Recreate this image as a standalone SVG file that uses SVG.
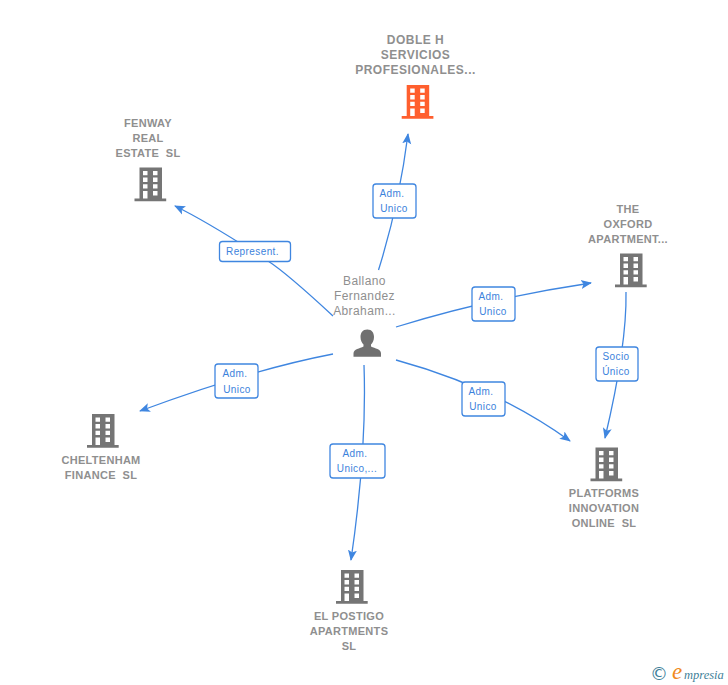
<svg xmlns="http://www.w3.org/2000/svg" width="728" height="685" viewBox="0 0 728 685">
<style>
.n{font:bold 11px "Liberation Sans",Arial,sans-serif;fill:#8f8f8f;text-anchor:middle;letter-spacing:.3px;white-space:pre}
.o{font-size:12px;letter-spacing:.5px}
.p{font:12px "Liberation Sans",Arial,sans-serif;fill:#8f8f8f;text-anchor:middle;letter-spacing:.4px}
.l{font:10px "Liberation Sans",Arial,sans-serif;fill:#3b82dc;text-anchor:middle;letter-spacing:.4px}
.b{fill:#fff;stroke:#3f86e0;stroke-width:1.3}
.c{fill:none;stroke:#3f86e0;stroke-width:1.3;marker-end:url(#a)}
</style>
<defs>
<marker id="a" viewBox="0 0 11 10" refX="10" refY="5" markerWidth="11" markerHeight="10" markerUnits="userSpaceOnUse" orient="auto"><path d="M0 0.500L11 5L0 9.500L2.500 5Z" fill="#3f86e0"/></marker>
<g id="bld">
<path fill-rule="evenodd" d="M5 0H27.500V31H31.700V33.700H0V31H5ZM8.500 3.500V7.700H13V3.500ZM18.500 3.500V7.700H23V3.500ZM8.500 10V14.500H13V10ZM18.500 10V14.500H23V10ZM8.500 16.800V21H13V16.800ZM18.500 16.800V21H23V16.800ZM8.500 23.500V31H13V23.500ZM18.500 23.500V28H23V23.500Z"/>
</g>
</defs>
<g id="connectors">
<path class="c" d="M378.500 270Q399 205 408 134"/>
<path class="c" d="M333 316C305 290 285 272 268 261C240 243 208 222 175 206"/>
<path class="c" d="M396 327Q490 298 591 283"/>
<path class="c" d="M626 292Q627 345 605 438"/>
<path class="c" d="M396 360Q495 387 570 441"/>
<path class="c" d="M364 365Q367 450 351 560"/>
<path class="c" d="M333 354Q250 370 140 411"/>
</g>
<g id="label-doble"><rect class="b" x="373" y="184" width="43" height="34" rx="3"/><text class="l" x="392" y="197">Adm.</text><text class="l" x="394" y="212">Unico</text></g>
<g id="label-fenway"><rect class="b" x="219.500" y="241.500" width="71" height="20" rx="3"/><text class="l" x="252.500" y="255">Represent.</text></g>
<g id="label-oxford"><rect class="b" x="472" y="287" width="43" height="34" rx="3"/><text class="l" x="491" y="300">Adm.</text><text class="l" x="493" y="315">Unico</text></g>
<g id="label-socio"><rect class="b" x="596" y="347" width="42" height="34" rx="3"/><text class="l" x="616" y="360">Socio</text><text class="l" x="616" y="375">Único</text></g>
<g id="label-platforms"><rect class="b" x="462" y="382" width="43" height="34" rx="3"/><text class="l" x="481" y="395">Adm.</text><text class="l" x="483" y="410">Unico</text></g>
<g id="label-cheltenham"><rect class="b" x="215" y="364" width="43" height="34" rx="3"/><text class="l" x="235" y="377">Adm.</text><text class="l" x="237" y="393">Unico</text></g>
<g id="label-postigo"><rect class="b" x="330" y="444" width="55" height="34" rx="3"/><text class="l" x="355" y="457">Adm.</text><text class="l" x="357" y="472">Unico,...</text></g>
<g id="node-person">
<text class="p" x="364.500" y="285">Ballano</text><text class="p" x="364.500" y="300">Fernandez</text><text class="p" x="364.500" y="315">Abraham...</text>
<path fill="#707070" d="M367.300 329.500C372 329.500 374 333 374 337C374 340.500 372.500 343 371 344.500V346.500C375 348.500 381 349 381 353.500V356.700H353.500V353.500C353.500 349 360 348.500 363.500 346.500V344.500C362 343 360.500 340.500 360.500 337C360.500 333 362.500 329.500 367.300 329.500Z"/>
</g>
<g id="node-doble"><text class="n o" x="415.500" y="44">DOBLE H</text><text class="n o" x="415.500" y="59">SERVICIOS</text><text class="n o" x="415.500" y="74">PROFESIONALES...</text><use href="#bld" x="401.700" y="85" fill="#ff5f2e"/></g>
<g id="node-fenway"><text class="n" x="148" y="127">FENWAY</text><text class="n" x="148" y="142">REAL</text><text class="n" x="148" y="157">ESTATE  SL</text><use href="#bld" x="134.500" y="167.500" fill="#757575"/></g>
<g id="node-oxford"><text class="n" x="628" y="213">THE</text><text class="n" x="628" y="228">OXFORD</text><text class="n" x="628" y="243">APARTMENT...</text><use href="#bld" x="615" y="253.500" fill="#757575"/></g>
<g id="node-platforms"><text class="n" x="604" y="497">PLATFORMS</text><text class="n" x="604" y="512">INNOVATION</text><text class="n" x="604" y="527">ONLINE  SL</text><use href="#bld" x="590.500" y="447.500" fill="#757575"/></g>
<g id="node-cheltenham"><text class="n" x="101" y="464">CHELTENHAM</text><text class="n" x="101" y="479">FINANCE  SL</text><use href="#bld" x="87" y="414" fill="#757575"/></g>
<g id="node-postigo"><text class="n" x="349" y="620">EL POSTIGO</text><text class="n" x="349" y="635">APARTMENTS</text><text class="n" x="349" y="650">SL</text><use href="#bld" x="336" y="570" fill="#757575"/></g>
<g id="logo">
<text x="650" y="680" font-family="'DejaVu Sans',sans-serif" font-size="18" fill="#3f7f99">©</text>
<text x="672" y="679" font-family="'Liberation Serif',serif" font-style="italic" font-size="23" fill="#f08a1d">e</text>
<text x="684" y="679" font-family="'Liberation Serif',serif" font-style="italic" font-size="12.500" fill="#3f7f99">mpresia</text>
</g>
</svg>
